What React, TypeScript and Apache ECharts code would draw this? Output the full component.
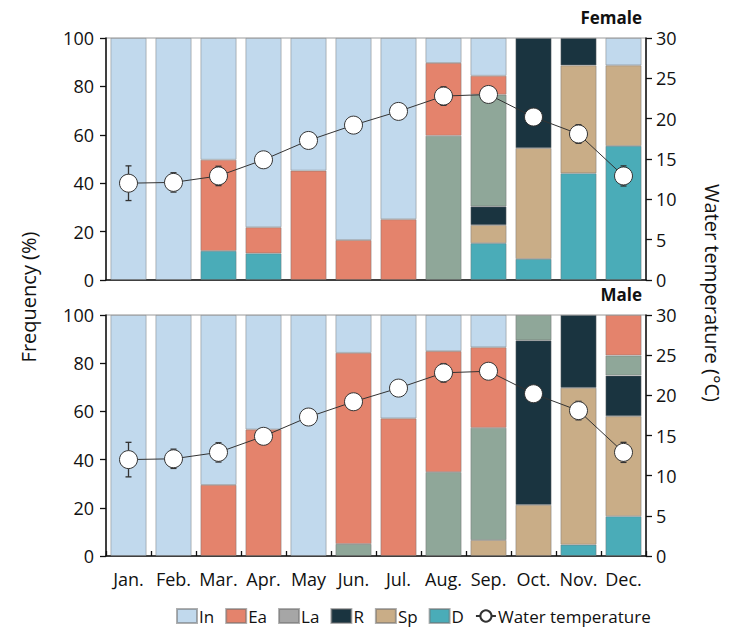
import React, { useEffect, useRef } from "react";
import * as echarts from "echarts";

const months = ["Jan.", "Feb.", "Mar.", "Apr.", "May", "Jun.", "Jul.", "Aug.", "Sep.", "Oct.", "Nov.", "Dec."];

// Female stage frequencies (%)
const femaleD = [0, 0, 12, 11, 0, 0, 0, 0, 15.2, 8.7, 44.1, 55.4];
const femaleSp = [0, 0, 0, 0, 0, 0, 0, 0, 7.5, 45.8, 44.6, 33.3];
const femaleR = [0, 0, 0, 0, 0, 0, 0, 0, 7.7, 45.5, 11.3, 0];
const femaleLa = [0, 0, 0, 0, 0, 0, 0, 59.6, 46.2, 0, 0, 0];
const femaleEa = [0, 0, 37.7, 10.8, 45.2, 16.5, 25.1, 30.1, 7.8, 0, 0, 0];
const femaleIn = [100, 100, 50.3, 78.2, 54.8, 83.5, 74.9, 10.3, 15.6, 0, 0, 11.3];

// Male stage frequencies (%)
const maleD = [0, 0, 0, 0, 0, 0, 0, 0, 0, 0, 4.7, 16.5];
const maleSp = [0, 0, 0, 0, 0, 0, 0, 0, 6.6, 21.2, 65.1, 41.5];
const maleR = [0, 0, 0, 0, 0, 0, 0, 0, 0, 68.3, 30.2, 16.9];
const maleLa = [0, 0, 0, 0, 0, 5.0, 0, 34.8, 46.6, 10.5, 0, 8.3];
const maleEa = [0, 0, 29.5, 52.5, 0, 79.3, 57.1, 50.2, 33.4, 0, 0, 16.8];
const maleIn = [100, 100, 70.5, 47.5, 100, 15.7, 42.9, 15, 13.4, 0, 0, 0];

// Water temperature (°C) mean and error
const waterTemp = [12.0, 12.1, 12.9, 14.9, 17.3, 19.2, 20.9, 22.8, 23.0, 20.2, 18.1, 12.9];
const waterTempErr = [2.15, 1.2, 1.2, 0.8, 0.5, 0.5, 0.5, 1.15, 0.8, 0.8, 1.15, 1.25];

const freqTicks = [0, 20, 40, 60, 80, 100];
const tempTicks = [0, 5, 10, 15, 20, 25, 30];

const COLORS: Record<string, string> = {
  In: "#c1d9ed",
  Ea: "#e4836c",
  La: "#8fa799",
  R: "#1a3440",
  Sp: "#c9ad87",
  D: "#4aacb8",
};

const FONT = "Open Sans";

export default function App() {
  const ref = useRef<HTMLDivElement>(null);

  useEffect(() => {
    if (!ref.current) return;
    const chart = echarts.init(ref.current, null, { renderer: "svg" });

    const gridLeft = 106;
    const gridRight = 86;
    const grids = [
      { left: gridLeft, right: gridRight, top: 38, height: 242 },
      { left: gridLeft, right: gridRight, top: 315, height: 241 },
    ].map((g) => ({ ...g, show: true, borderColor: "#9a9a9a", borderWidth: 1, backgroundColor: "transparent" }));

    const toBar = (arr: number[]) => arr.map((v) => (v === 0 ? "-" : v));

    const panels = [
      { D: femaleD, Sp: femaleSp, R: femaleR, La: femaleLa, Ea: femaleEa, In: femaleIn },
      { D: maleD, Sp: maleSp, R: maleR, La: maleLa, Ea: maleEa, In: maleIn },
    ];
    const order = ["D", "Sp", "R", "La", "Ea", "In"];

    const series: any[] = [];
    panels.forEach((p: any, gi) => {
      order.forEach((name) => {
        series.push({
          type: "bar",
          name,
          stack: "s" + gi,
          xAxisIndex: gi,
          yAxisIndex: gi * 2,
          barCategoryGap: "20%",
          data: toBar(p[name]),
          itemStyle: { color: COLORS[name], borderColor: "rgba(110,110,110,0.55)", borderWidth: 0.8 },
          emphasis: { disabled: true },
        });
      });
      series.push({
        type: "custom",
        name: "err" + gi,
        xAxisIndex: gi,
        yAxisIndex: gi * 2 + 1,
        z: 4,
        data: waterTemp.map((v, i) => [i, v, waterTempErr[i]]),
        encode: { x: 0, y: 1 },
        renderItem: (params: any, api: any) => {
          const x = api.value(0);
          const y = api.value(1);
          const e = api.value(2);
          const top = api.coord([x, y + e]);
          const bot = api.coord([x, y - e]);
          const w = 3;
          const st = { stroke: "#333", lineWidth: 1.3 };
          return {
            type: "group",
            children: [
              { type: "line", shape: { x1: top[0], y1: top[1], x2: bot[0], y2: bot[1] }, style: st },
              { type: "line", shape: { x1: top[0] - w, y1: top[1], x2: top[0] + w, y2: top[1] }, style: st },
              { type: "line", shape: { x1: bot[0] - w, y1: bot[1], x2: bot[0] + w, y2: bot[1] }, style: st },
            ],
          };
        },
      });
      series.push({
        type: "line",
        name: "Water temperature",
        xAxisIndex: gi,
        yAxisIndex: gi * 2 + 1,
        z: 5,
        data: waterTemp,
        symbol: "circle",
        symbolSize: 18,
        lineStyle: { color: "#333", width: 1 },
        itemStyle: { color: "#ffffff", borderColor: "#333", borderWidth: 1 },
        emphasis: { disabled: true },
      });
    });

    const axisLine = { show: true, lineStyle: { color: "#111", width: 1.5 } };
    const labelStyle = { fontFamily: FONT, fontSize: 18, color: "#111" };

    const xAxes = [0, 1].map((gi) => ({
      type: "category",
      gridIndex: gi,
      data: months,
      axisLine,
      axisTick: gi === 1 ? { show: true, inside: true, length: 5, lineStyle: { color: "#111", width: 1.3 } } : { show: false },
      axisLabel: gi === 1 ? { ...labelStyle, margin: 14, interval: 0 } : { show: false },
      splitLine: { show: false },
    }));

    const yAxes: any[] = [];
    [0, 1].forEach((gi) => {
      yAxes.push({
        type: "value",
        gridIndex: gi,
        position: "left",
        min: freqTicks[0],
        max: freqTicks[freqTicks.length - 1],
        interval: 20,
        axisLine,
        axisTick: { show: true, length: 6, lineStyle: { color: "#111", width: 1.3 } },
        axisLabel: { ...labelStyle, margin: 12 },
        splitLine: { show: false },
      });
      yAxes.push({
        type: "value",
        gridIndex: gi,
        position: "right",
        min: tempTicks[0],
        max: tempTicks[tempTicks.length - 1],
        interval: 5,
        axisLine,
        axisTick: { show: true, length: 6, lineStyle: { color: "#111", width: 1.3 } },
        axisLabel: { ...labelStyle, margin: 10 },
        splitLine: { show: false },
      });
    });

    chart.setOption({
      animation: false,
      textStyle: { fontFamily: FONT },
      grid: grids,
      xAxis: xAxes,
      yAxis: yAxes,
      legend: {
        top: 606,
        left: 176,
        itemWidth: 20,
        itemHeight: 14,
        itemGap: 11,
        padding: 0,
        textStyle: { fontFamily: FONT, fontSize: 17, color: "#111", padding: [0, 0, 0, -3], lineHeight: 20 },
        data: [
          { name: "In", icon: "rect" },
          { name: "Ea", icon: "rect" },
          { name: "La", icon: "rect", itemStyle: { color: "#a6a6a6" } },
          { name: "R", icon: "rect" },
          { name: "Sp", icon: "rect" },
          { name: "D", icon: "rect" },
          { name: "Water temperature" },
        ],
      },
      graphic: [
        {
          type: "text",
          right: 90,
          top: 9,
          style: { text: "Female", fontFamily: FONT, fontSize: 17, fontWeight: "bold", fill: "#111" },
        },
        {
          type: "text",
          right: 90,
          top: 286,
          style: { text: "Male", fontFamily: FONT, fontSize: 17, fontWeight: "bold", fill: "#111" },
        },
        {
          type: "text",
          x: 28,
          y: 297,
          rotation: Math.PI / 2,
          style: { text: "Frequency (%)", fontFamily: FONT, fontSize: 20, fill: "#111", align: "center", verticalAlign: "middle" },
        },
        {
          type: "text",
          x: 712,
          y: 293,
          rotation: -Math.PI / 2,
          style: { text: "Water temperature (°C)", fontFamily: FONT, fontSize: 20, fill: "#111", align: "center", verticalAlign: "middle" },
        },
      ],
      series,
    });

    return () => chart.dispose();
  }, []);

  return <div ref={ref} style={{ width: 732, height: 630, position: "absolute", left: 0, top: 0 }} />;
}
